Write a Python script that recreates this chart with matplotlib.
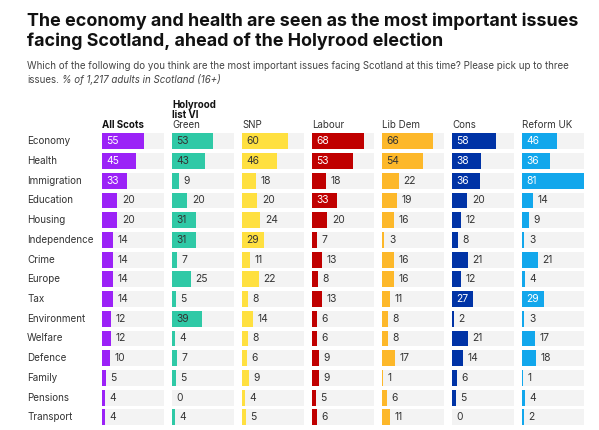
import matplotlib
matplotlib.use("Agg")
import matplotlib.pyplot as plt

categories = ["Economy", "Health", "Immigration", "Education", "Housing", "Independence",
              "Crime", "Europe", "Tax", "Environment", "Welfare", "Defence", "Family",
              "Pensions", "Transport"]
groups = ["All Scots", "Green", "SNP", "Labour", "Lib Dem", "Cons", "Reform UK"]
all_scots = [55, 45, 33, 20, 20, 14, 14, 14, 14, 12, 12, 10, 5, 4, 4]
green = [53, 43, 9, 20, 31, 31, 7, 25, 5, 39, 4, 7, 5, 0, 4]
snp = [60, 46, 18, 20, 24, 29, 11, 22, 8, 14, 8, 6, 9, 4, 5]
labour = [68, 53, 18, 33, 20, 7, 13, 8, 13, 6, 6, 9, 9, 5, 6]
libdem = [66, 54, 22, 19, 16, 3, 16, 16, 11, 8, 8, 17, 1, 6, 11]
cons = [58, 38, 36, 20, 12, 8, 21, 12, 27, 2, 21, 14, 6, 5, 0]
reform = [46, 36, 81, 14, 9, 3, 21, 4, 29, 3, 17, 18, 1, 4, 2]
series = [all_scots, green, snp, labour, libdem, cons, reform]

colors = ["#9b22f7", "#2fc9a6", "#ffe040", "#c00000", "#fdb82a", "#0033a6", "#12a7ec"]
inside_text = ["white", "#333333", "#333333", "white", "#333333", "white", "white"]

plt.rcParams['font.family'] = ['Inter', 'DejaVu Sans']
W, H = 599, 430
fig = plt.figure(figsize=(W / 100, H / 100), dpi=100)

def fx(px):
    return px / W

def fy(py):
    return 1 - py / H

base = fig.add_axes([0, 0, 1, 1])
base.axis("off")

fig.text(fx(27), fy(13), "The economy and health are seen as the most important issues\nfacing Scotland, ahead of the Holyrood election",
         fontsize=12.9, fontweight="bold", color="#111111", va="top", ha="left", linespacing=1.12)
fig.text(fx(27), fy(61), "Which of the following do you think are the most important issues facing Scotland at this time? Please pick up to three",
         fontsize=7.0, color="#444444", va="top", ha="left")
t1 = fig.text(fx(27), fy(75), "issues.", fontsize=7.0, color="#444444", va="top", ha="left")
base.annotate("% of 1,217 adults in Scotland (16+)", xy=(1, 0), xycoords=t1,
              xytext=(2.2, 0), textcoords="offset points",
              fontsize=7.0, color="#444444", va="bottom", ha="left", style="italic")

n = len(categories)
row_top, row_bot = 131.5, 427.2
xmax = max(max(s) for s in series)
col_left = [102, 172, 242, 312, 382, 452, 522]
col_w = 62

for gi, (g, vals) in enumerate(zip(groups, series)):
    ax = fig.add_axes([fx(col_left[gi]), fy(row_bot), fx(col_w), (row_bot - row_top) / H])
    ax.set_xlim(0, xmax)
    ax.set_ylim(n - 0.5, -0.5)
    ax.axis("off")
    ys = list(range(n))
    ax.barh(ys, [xmax] * n, height=0.81, left=0, color="#f3f3f3", edgecolor="none")
    ax.barh(ys, vals, height=0.81, color=colors[gi], edgecolor="none")
    for y, v in zip(ys, vals):
        if v >= 26:
            ax.annotate(str(v), (0, y), xytext=(3, 0), textcoords="offset points",
                        va="center", ha="left", fontsize=7.4, color=inside_text[gi])
        else:
            ax.annotate(str(v), (v, y), xytext=(3.3, 0), textcoords="offset points",
                        va="center", ha="left", fontsize=7.4, color="#333333")
    if g == "All Scots":
        fig.text(fx(col_left[gi]), fy(128), g, fontsize=7.0, fontweight="bold",
                 color="#111111", va="baseline", ha="left")
    else:
        fig.text(fx(col_left[gi]), fy(128), g, fontsize=7.0,
                 color="#333333", va="baseline", ha="left")
    if g == "Green":
        fig.text(fx(col_left[gi]), fy(117.5), "Holyrood\nlist VI", fontsize=7.0, fontweight="bold",
                 color="#111111", va="baseline", ha="left", linespacing=1.0)

for i, c in enumerate(categories):
    yc = row_top + (i + 0.5) * (row_bot - row_top) / n
    fig.text(fx(27), fy(yc), c, fontsize=7.1, color="#333333", va="center", ha="left")

fig.savefig("out.png", dpi=100)
